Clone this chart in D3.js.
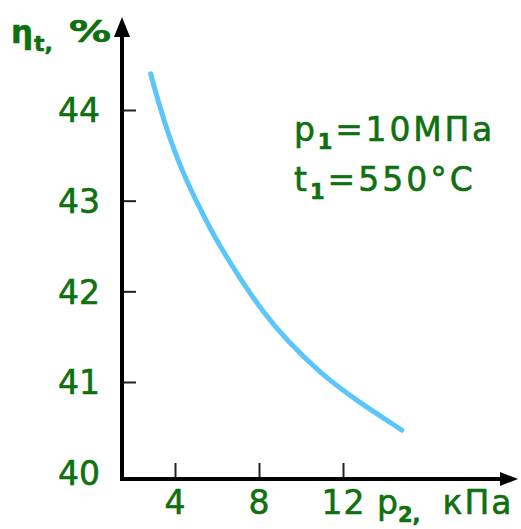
<!DOCTYPE html>
<html>
<head>
<meta charset="utf-8">
<script src="https://cdn.jsdelivr.net/npm/d3@7"></script>
<style>
html,body{margin:0;padding:0;background:#fff;}
svg{display:block;}
text{font-family:"DejaVu Sans",Verdana,sans-serif;fill:#0f700f;stroke:#0f700f;stroke-width:0.6px;}
</style>
</head>
<body>
<svg id="chart" width="521" height="529"></svg>
<script>
// Data
const pressure = [2.84, 3.29, 3.76, 4.32, 4.95, 5.75, 6.14, 7.10, 8.19, 9.32, 10.90, 12.48, 14.80];
const efficiency = [44.40, 44.02, 43.68, 43.34, 43.02, 42.66, 42.50, 42.14, 41.77, 41.46, 41.10, 40.82, 40.47];
const xTicks = [4, 8, 12];
const yTicks = [40, 41, 42, 43, 44];

const svg = d3.select("#chart");
const originX = 122, originY = 479;

const x = d3.scaleLinear().domain([4, 12]).range([175, 343]);
const y = d3.scaleLinear().domain([44, 41]).range([110, 382]);

const green = "#0f700f";

// tick marks + labels via axes
const yAxis = d3.axisLeft(y).tickValues(yTicks).tickSize(-14).tickPadding(22).tickFormat(d3.format("d"));
const gy = svg.append("g").attr("transform", `translate(${originX},0)`).call(yAxis);
gy.select(".domain").remove();
gy.selectAll(".tick line").attr("stroke", "#222").attr("stroke-width", 2)
  .filter(d => d === 40).remove();
gy.selectAll(".tick text").attr("font-size", 33).attr("fill", green)
  .attr("font-family", "DejaVu Sans").attr("dy", "0.36em");

const xAxis = d3.axisBottom(x).tickValues(xTicks).tickSize(-16).tickPadding(0).tickFormat(d3.format("d"));
const gx = svg.append("g").attr("transform", `translate(0,${originY})`).call(xAxis);
gx.select(".domain").remove();
gx.selectAll(".tick line").attr("stroke", "#222").attr("stroke-width", 2);
gx.selectAll(".tick text").attr("font-size", 33).attr("fill", green)
  .attr("font-family", "DejaVu Sans").attr("y", 35).attr("dy", 0).attr("letter-spacing", 1);

// axis lines with arrows
svg.append("line").attr("x1", originX).attr("y1", originY + 1.5).attr("x2", originX).attr("y2", 36)
  .attr("stroke", "#000").attr("stroke-width", 4);
svg.append("path").attr("d", `M${originX},17 L${originX - 8},37 L${originX + 8},37 Z`).attr("fill", "#000");
svg.append("line").attr("x1", originX - 2).attr("y1", originY).attr("x2", 502).attr("y2", originY)
  .attr("stroke", "#000").attr("stroke-width", 4);
svg.append("path").attr("d", `M518,${originY} L500,${originY - 7} L500,${originY + 7} Z`).attr("fill", "#000");

// curve
const pts = pressure.map((p, i) => [p, efficiency[i]]);
svg.append("path").datum(pts)
  .attr("fill", "none").attr("stroke", "#5cc6fb").attr("stroke-width", 5).attr("stroke-linecap", "round")
  .attr("d", d3.line().x(d => x(d[0])).y(d => y(d[1])).curve(d3.curveBasis));

// axis titles
const yt = svg.append("text").attr("x", 11).attr("y", 43).attr("font-size", 31).attr("font-weight", "bold");
yt.append("tspan").text("η");
yt.append("tspan").attr("font-size", 22).attr("dy", 8).attr("dx", 1).text("t");
yt.append("tspan").attr("font-size", 22).text(",");
svg.append("text").attr("transform", "translate(69,42) scale(1.4,1)").attr("font-size", 30)
  .attr("font-weight", "bold").text("%");

const xt = svg.append("text").attr("x", 377).attr("y", 514).attr("font-size", 33);
xt.append("tspan").text("p");
xt.append("tspan").attr("font-size", 21).attr("font-weight", "bold").attr("dy", 8).text("2");
xt.append("tspan").attr("font-size", 21).attr("font-weight", "bold").text(",");
xt.append("tspan").attr("dy", -8).attr("dx", 22).attr("letter-spacing", 2).text("кПа");

// annotation
const a1 = svg.append("text").attr("x", 294).attr("y", 141).attr("font-size", 33).attr("letter-spacing", 2.8);
a1.append("tspan").text("p");
a1.append("tspan").attr("font-size", 21).attr("font-weight", "bold").attr("dy", 8).text("1");
a1.append("tspan").attr("dy", -8).text("=10МПа");
const a2 = svg.append("text").attr("x", 294).attr("y", 191).attr("font-size", 33).attr("letter-spacing", 3);
a2.append("tspan").text("t");
a2.append("tspan").attr("font-size", 21).attr("font-weight", "bold").attr("dy", 8).text("1");
a2.append("tspan").attr("dy", -8).text("=550°C");
</script>
</body>
</html>
